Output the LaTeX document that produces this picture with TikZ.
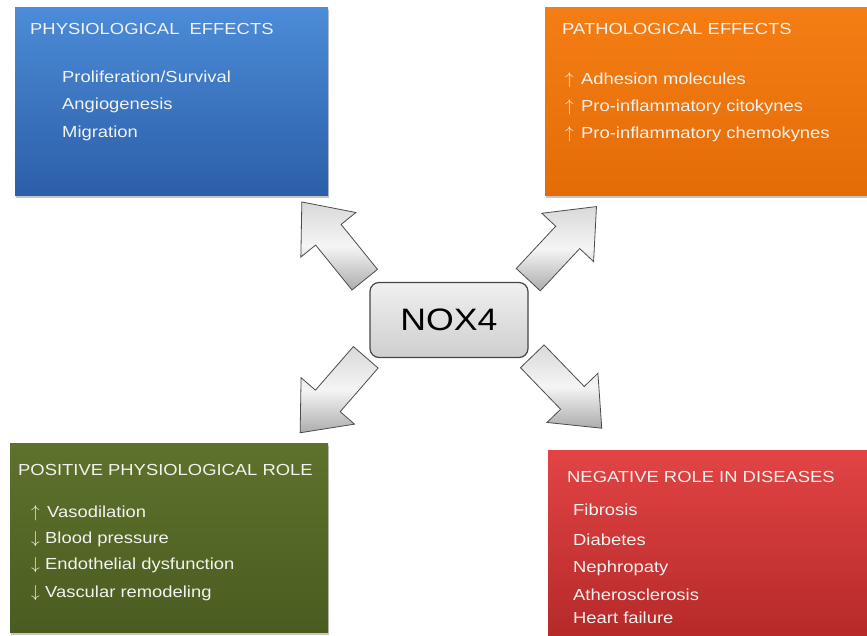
\documentclass[tikz,border=0pt]{standalone}
\usepackage{fontspec}
\setmainfont{Liberation Sans}[FakeStretch=1.15]
\usetikzlibrary{shapes.arrows,shadows}

\definecolor{bluetop}{HTML}{4C8CD8}
\definecolor{bluebot}{HTML}{2C5EA8}
\definecolor{orangetop}{HTML}{F47E14}
\definecolor{orangebot}{HTML}{E46C08}
\definecolor{greentop}{HTML}{5E722C}
\definecolor{greenbot}{HTML}{4A5C20}
\definecolor{redtop}{HTML}{E24444}
\definecolor{redbot}{HTML}{B42828}
\definecolor{paneltext}{HTML}{F2F2F0}

\newcommand{\incr}{\makebox[16pt][l]{$\uparrow$}}
\newcommand{\decr}{\makebox[14pt][l]{$\downarrow$}}

\tikzset{
    panel/.style={anchor=north west, inner sep=0pt,
        drop shadow={opacity=0.45, shadow xshift=1pt, shadow yshift=-2.5pt}},
    title/.style={anchor=base west, inner sep=0pt, text=paneltext,
        font=\fontsize{16}{19}\selectfont},
    bigarrow/.style={single arrow, anchor=tail, draw=gray!60!black,
        line width=0.8pt, inner xsep=0pt, inner ysep=16pt,
        minimum height=100pt, minimum width=70pt,
        single arrow head extend=19pt, single arrow tip angle=80,
        top color=gray!30, bottom color=gray!65, middle color=gray!8},
}

\begin{document}
\begin{tikzpicture}[x=1pt,y=1pt]
    \useasboundingbox[fill=white] (0,0) rectangle (867,-636);

    % the four panels
    \node[panel, minimum width=313pt, minimum height=188pt,
        top color=bluetop, bottom color=bluebot] (phys) at (15,-7) {};
    \node[panel, minimum width=330pt, minimum height=188pt,
        top color=orangetop, bottom color=orangebot] (path) at (545,-7) {};
    \node[panel, minimum width=318pt, minimum height=189pt,
        top color=greentop, bottom color=greenbot] (pos) at (10,-443) {};
    \node[panel, minimum width=330pt, minimum height=195pt,
        top color=redtop, bottom color=redbot] (neg) at (548,-450) {};

    % physiological effects
    \node[title] (physT) at (30,-35)
            {PHYSIOLOGICAL\ \ EFFECTS};
    \node[title] (phys1) at (62,-83)
            {Proliferation/Survival};
    \node[title] (phys2) at (62,-110)
            {Angiogenesis};
    \node[title] (phys3) at (62,-138)
            {Migration};

    % pathological effects
    \node[title] (pathT) at (562,-35)
            {PATHOLOGICAL EFFECTS};
    \node[title] (path1) at (565,-85)
            {\incr Adhesion molecules};
    \node[title] (path2) at (565,-112)
            {\incr Pro-inflammatory citokynes};
    \node[title] (path3) at (565,-139)
            {\incr Pro-inflammatory chemokynes};

    % positive role
    \node[title] (posT) at (18,-475)
            {POSITIVE PHYSIOLOGICAL ROLE};
    \node[title] (pos1) at (31,-517)
            {\incr Vasodilation};
    \node[title] (pos2) at (31,-543)
            {\decr Blood pressure};
    \node[title] (pos3) at (31,-569)
            {\decr Endothelial dysfunction};
    \node[title] (pos4) at (31,-597)
            {\decr Vascular remodeling};

    % negative role
    \node[title] (negT) at (567,-482)
            {NEGATIVE ROLE IN DISEASES};
    \node[title] (neg1) at (573,-515)
            {Fibrosis};
    \node[title] (neg2) at (573,-545)
            {Diabetes};
    \node[title] (neg3) at (573,-572)
            {Nephropaty};
    \node[title] (neg4) at (573,-600)
            {Atherosclerosis};
    \node[title] (neg5) at (573,-623)
            {Heart failure};

    % block arrows
    \node[bigarrow, rotate=129] (aPhys) at (365,-280) {};
    \node[bigarrow, rotate=47] (aPath) at (528,-280) {};
    \node[bigarrow, rotate=229] (aPos) at (366,-357) {};
    \node[bigarrow, rotate=-46] (aNeg) at (532,-356) {};

    % centre
    \node[draw=gray!55!black, line width=1.2pt, rounded corners=9pt,
        top color=gray!12, bottom color=gray!38,
        minimum width=158pt, minimum height=75pt,
        font=\fontsize{31}{36}\selectfont] (nox) at (449,-320)
            {NOX4};
\end{tikzpicture}
\end{document}
